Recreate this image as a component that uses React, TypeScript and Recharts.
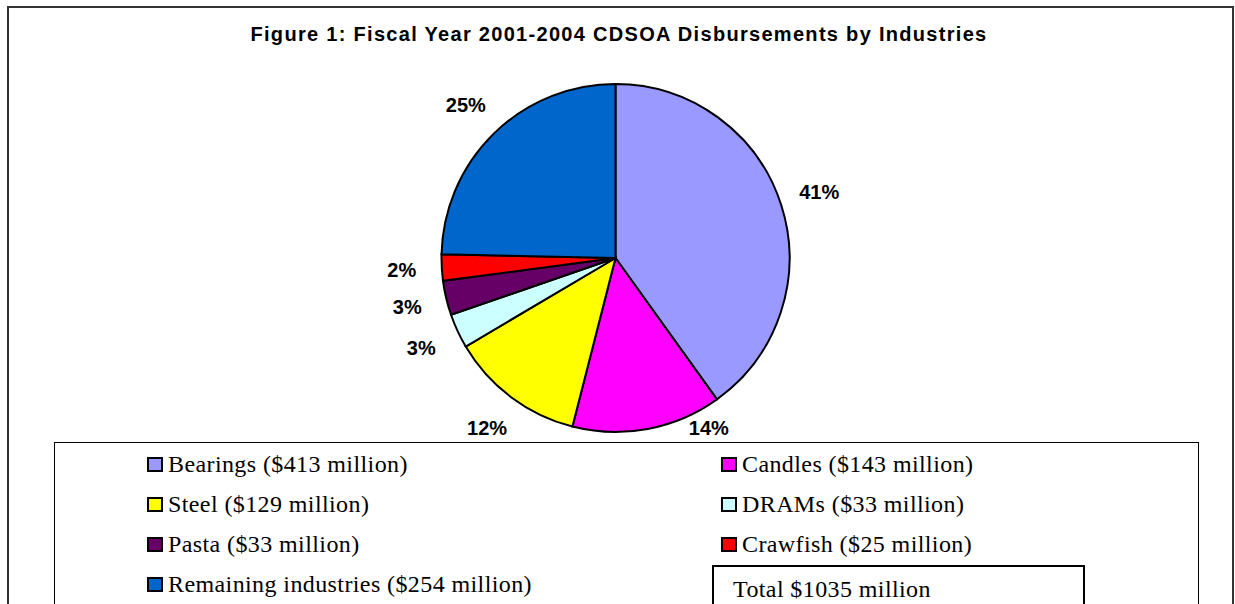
import React from "react";
import { PieChart, Pie, Cell } from "recharts";

const title = "Figure 1: Fiscal Year 2001-2004 CDSOA Disbursements by Industries";
const industries = ["Bearings", "Candles", "Steel", "DRAMs", "Pasta", "Crawfish", "Remaining industries"];
const millions = [413, 143, 129, 33, 33, 25, 254];
const pctLabels = ["41%", "14%", "12%", "3%", "3%", "2%", "25%"];
const totalLabel = "Total $1035 million";

const COLORS = ["#9999FF", "#FF00FF", "#FFFF00", "#CCFFFF", "#660066", "#FF0000", "#0066CC"];

const W = 1235;
const H = 604;
const CX = 615.5;
const CY = 258;
const R = 174;
const LEGEND_TOP = 441.5;
const RAD = Math.PI / 180;

const data = industries.map((name, i) => ({ name, value: millions[i] }));

function renderLabel(props: any) {
  const { cx, cy, midAngle, outerRadius, index } = props;
  const r = outerRadius + 40;
  let x = cx + r * Math.cos(-midAngle * RAD);
  let y = cy + r * Math.sin(-midAngle * RAD);
  // keep labels above the legend box and clear of the pie
  const maxY = LEGEND_TOP - 13.5;
  if (y > maxY) {
    y = maxY;
    const dyTop = y - 10 - cy;
    if (Math.abs(dyTop) < outerRadius) {
      const need = Math.sqrt(outerRadius * outerRadius - dyTop * dyTop) + 25;
      const dx = x - cx;
      if (Math.abs(dx) < need) x = cx + Math.sign(dx || 1) * need;
    }
  }
  return (
    <text
      x={x}
      y={y}
      textAnchor="middle"
      dominantBaseline="central"
      fontFamily="'Liberation Sans', Arial, sans-serif"
      fontWeight="bold"
      fontSize={20}
      fill="#000"
    >
      {pctLabels[index]}
    </text>
  );
}

const serif = "'Liberation Serif', 'Times New Roman', serif";
const colLeft = [147, 721];

export default function App() {
  return (
    <div
      style={{
        position: "fixed",
        left: 0,
        top: 0,
        width: W,
        height: H,
        overflow: "hidden",
        background: "#fff",
      }}
    >
      <div
        style={{
          position: "absolute",
          left: 0,
          top: 24,
          width: 1238,
          textAlign: "center",
          fontFamily: "'Liberation Sans', Arial, sans-serif",
          fontWeight: "bold",
          fontSize: 20,
          lineHeight: "20px",
          letterSpacing: 1.3,
          color: "#000",
        }}
      >
        {title}
      </div>
      <div style={{ position: "absolute", left: 0, top: 0 }}>
        <PieChart width={W} height={H} margin={{ top: 0, right: 0, bottom: 0, left: 0 }}>
          <Pie
            data={data}
            dataKey="value"
            nameKey="name"
            cx={CX}
            cy={CY}
            outerRadius={R}
            startAngle={90}
            endAngle={-270}
            stroke="#000"
            strokeWidth={2}
            label={renderLabel}
            labelLine={false}
            isAnimationActive={false}
          >
            {data.map((d, i) => (
              <Cell key={d.name} fill={COLORS[i]} />
            ))}
          </Pie>
        </PieChart>
      </div>
      <div
        style={{
          position: "absolute",
          left: 53.5,
          top: LEGEND_TOP,
          width: 1145,
          height: 200,
          border: "1.5px solid #000",
          boxSizing: "border-box",
        }}
      />
      {data.map((d, i) => (
        <div
          key={d.name}
          style={{
            position: "absolute",
            left: colLeft[i % 2],
            top: 444 + 40 * Math.floor(i / 2),
            height: 40,
            lineHeight: "40px",
            fontFamily: serif,
            fontSize: 24,
            letterSpacing: 0.4,
            whiteSpace: "nowrap",
            color: "#000",
          }}
        >
          <span
            style={{
              display: "inline-block",
              width: 16,
              height: 15,
              background: COLORS[i],
              border: "2px solid #000",
              boxSizing: "border-box",
              marginRight: 5,
              verticalAlign: "baseline",
            }}
          />
          {`${d.name} ($${d.value} million)`}
        </div>
      ))}
      <div
        style={{
          position: "absolute",
          left: 711.5,
          top: 565,
          width: 373,
          height: 80,
          border: "2px solid #000",
          boxSizing: "border-box",
        }}
      />
      <div
        style={{
          position: "absolute",
          left: 733,
          top: 569,
          height: 40,
          lineHeight: "40px",
          fontFamily: serif,
          fontSize: 24,
          letterSpacing: 0.4,
          whiteSpace: "nowrap",
          color: "#000",
        }}
      >
        {totalLabel}
      </div>
      <div
        style={{
          position: "absolute",
          left: 7,
          top: 6,
          width: 1227,
          height: 700,
          border: "2px solid #333",
          boxSizing: "border-box",
          pointerEvents: "none",
        }}
      />
    </div>
  );
}
